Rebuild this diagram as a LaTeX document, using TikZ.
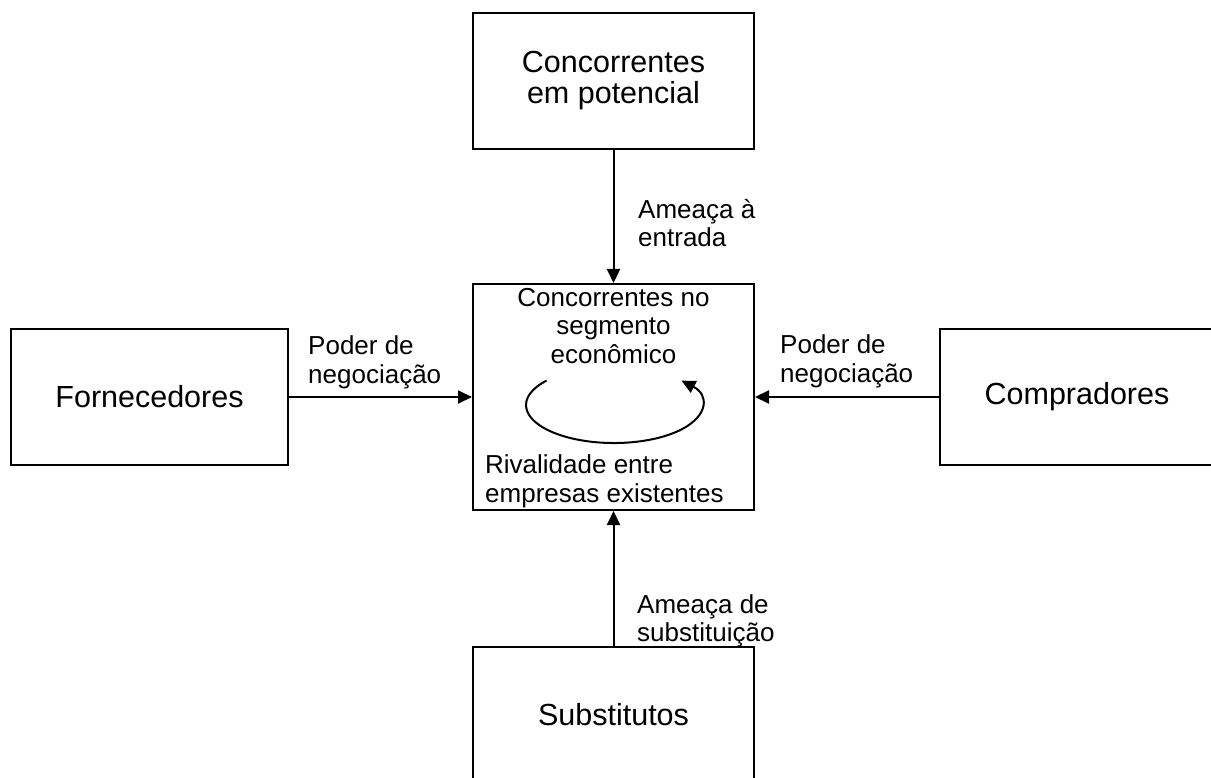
\documentclass[tikz,border=0pt]{standalone}
\usepackage{fontspec}
\setmainfont{Liberation Sans}
\usetikzlibrary{arrows.meta}
\begin{document}
\begin{tikzpicture}[x=1pt,y=-1pt,
    box/.style={draw,line width=2pt,minimum width=281pt,minimum height=136pt,
      inner sep=0pt,align=center,font=\fontsize{30.5}{31}\selectfont},
    lbl/.style={inner sep=0pt,align=left,font=\fontsize{26}{28.5}\selectfont},
    tip/.style={-{Triangle[length=14pt,width=13pt]},line width=2pt}]
  \useasboundingbox (0,0) rectangle (1211,778);
  \draw
    (613.5,81) node[box] (conc) {Concorrentes\\em potencial}
    (613.5,397) node[box,minimum height=226pt] (rival) {}
    (149.5,397) node[box,minimum width=277pt] (forn) {Fornecedores}
    (1077,397) node[box,minimum width=274pt] (comp) {Compradores}
    (613.5,715) node[box] (subs) {Substitutos};
  % texto dentro da caixa central
  \draw
    (613.5,288) node[lbl,anchor=north,align=center] (seg) {Concorrentes no\\segmento\\econômico}
    (485,508) node[lbl,anchor=south west] (riv) {Rivalidade entre\\empresas existentes};
  % rotulos das setas
  \draw
    (638,199) node[lbl,anchor=north west] (entr) {Ameaça à\\entrada}
    (308,389) node[lbl,anchor=south west] (negl) {Poder de\\negociação}
    (780,388) node[lbl,anchor=south west] (negr) {Poder de\\negociação}
    (637,594) node[lbl,anchor=north west] (subt) {Ameaça de\\substituição};
  \begin{scope}[tip]
    \draw (conc) to (rival);
    \draw (forn) to (rival);
    \draw (comp) to (rival);
    \draw (subs) to (rival);
    \draw (546.6,380.6) arc[start angle=140,end angle=400,x radius=88pt,y radius=38pt];
  \end{scope}
\end{tikzpicture}
\end{document}
